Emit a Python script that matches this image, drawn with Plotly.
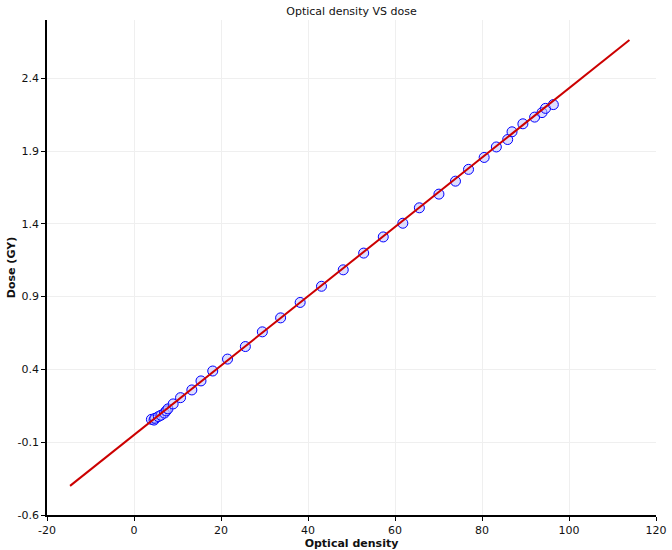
import plotly.graph_objects as go

optical_density = [4.0, 4.6, 4.8, 5.6, 6.2, 7.0, 7.4, 7.8, 9.0, 10.7, 13.3, 15.4, 18.1, 21.5, 25.6,
                   29.5, 33.7, 38.2, 43.1, 48.1, 52.8, 57.3, 61.8, 65.6, 70.1, 73.9, 76.9,
                   80.5, 83.3, 85.9, 86.9, 89.4, 92.1, 93.8, 94.6, 96.4]
dose = [0.057, 0.052, 0.064, 0.076, 0.085, 0.10, 0.115, 0.129, 0.163, 0.206, 0.259, 0.321, 0.389, 0.471, 0.557,
        0.658, 0.754, 0.860, 0.971, 1.084, 1.199, 1.310, 1.404, 1.510, 1.604, 1.693, 1.774,
        1.856, 1.928, 1.979, 2.032, 2.087, 2.133, 2.164, 2.193, 2.219]

fit_x = [-14.7, 113.9]
fit_y = [-0.400, 2.662]

x_ticks = [-20, 0, 20, 40, 60, 80, 100, 120]
y_ticks = [-0.6, -0.1, 0.4, 0.9, 1.4, 1.9, 2.4]

font_family = "'DejaVu Sans', sans-serif"

fig = go.Figure()
fig.add_trace(go.Scatter(
    x=optical_density, y=dose, mode="markers",
    marker=dict(size=10, color="rgba(190,190,255,0.5)", line=dict(color="#0000ff", width=1)),
    showlegend=False,
))
fig.add_trace(go.Scatter(
    x=fit_x, y=fit_y, mode="lines",
    line=dict(color="#cc0000", width=2),
    showlegend=False,
))

fig.update_layout(
    width=672, height=550,
    margin=dict(l=47, r=16, t=20, b=35),
    paper_bgcolor="white", plot_bgcolor="white",
    font=dict(family=font_family, color="#111111", size=11),
    title=dict(text="Optical density VS dose", x=(47 + 656) / 2 / 672, xanchor="center",
               y=1 - 11 / 550, yanchor="middle", font=dict(size=11)),
    xaxis=dict(
        range=[-20, 120], tickmode="array", tickvals=x_ticks, ticktext=[str(v) for v in x_ticks],
        showgrid=True, gridcolor="#efefef", gridwidth=1,
        showline=True, linecolor="black", linewidth=1.5,
        ticks="outside", ticklen=4, tickcolor="black",
        zeroline=False, automargin=False,
        title=dict(text="<b>Optical density</b>", standoff=0, font=dict(size=11)),
    ),
    yaxis=dict(
        range=[-0.6, 2.8], tickmode="array", tickvals=y_ticks, ticktext=[str(v) for v in y_ticks],
        showgrid=True, gridcolor="#efefef", gridwidth=1,
        showline=True, linecolor="black", linewidth=1.5,
        ticks="outside", ticklen=4, tickcolor="black",
        zeroline=False, automargin=False,
        title=dict(text="<b>Dose (GY)</b>", standoff=0, font=dict(size=11)),
    ),
)

fig.write_html("out.html", config={"displayModeBar": False},
               post_script="document.body.style.margin='0';")
